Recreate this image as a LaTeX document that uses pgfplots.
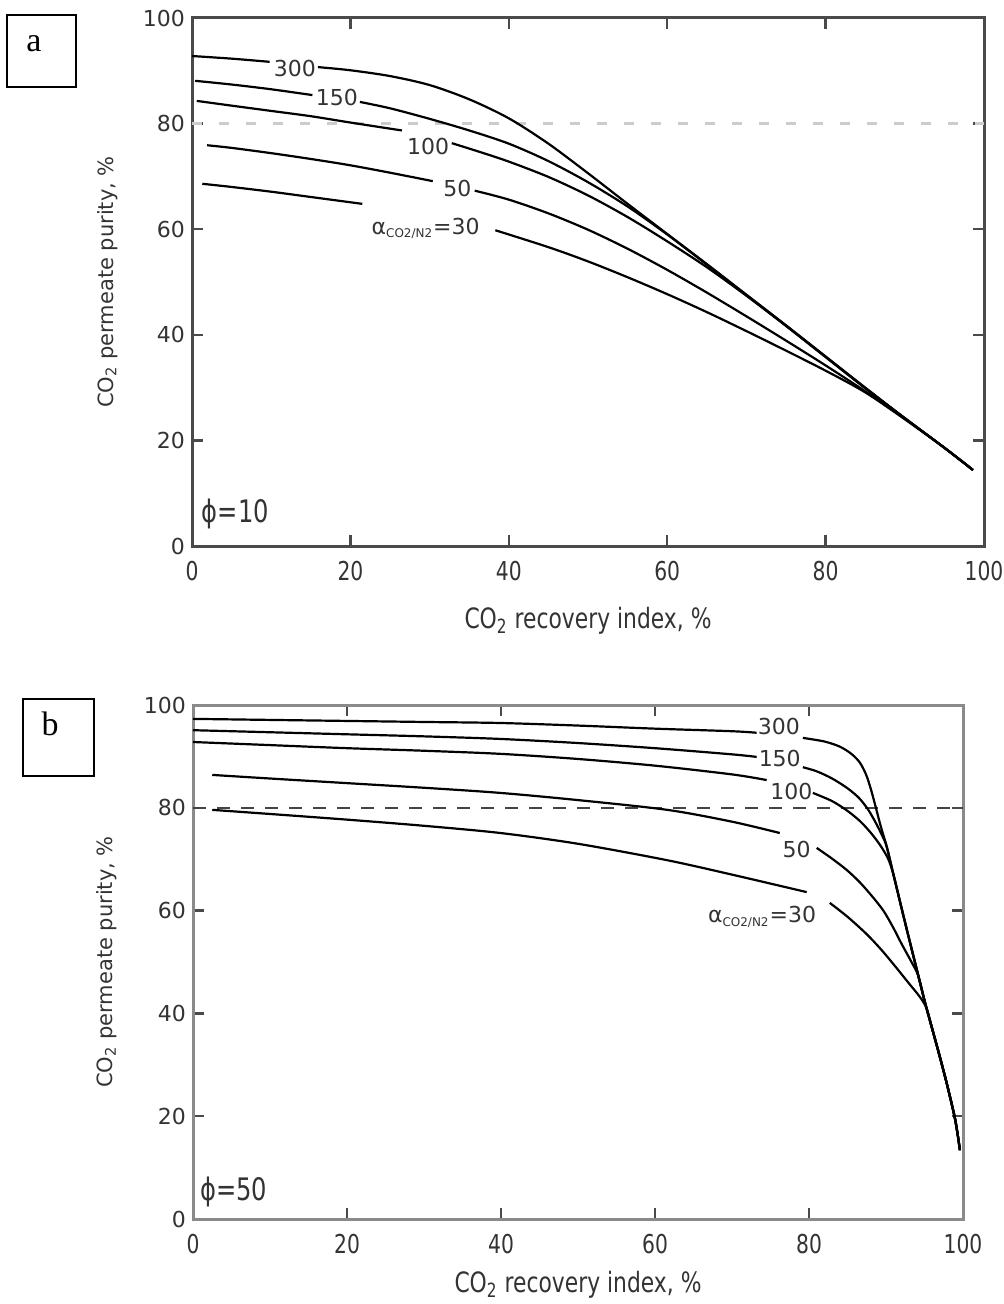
\documentclass[border=0pt]{standalone}
\usepackage{pgfplots}
\pgfplotsset{compat=1.18}
\usepackage{fontspec}
\setmainfont{DejaVu Sans}
\newfontfamily\condfont[FakeStretch=0.78]{DejaVu Sans}
\newfontfamily\seriffont{Liberation Serif}
\definecolor{axa}{HTML}{4A4A4A}
\definecolor{axb}{HTML}{8A8A8A}
\definecolor{txt}{HTML}{333333}
\definecolor{dasha}{HTML}{CCCCCC}
\definecolor{dashb}{HTML}{444444}
\newcommand{\alab}{α\textsubscript{\fontsize{6}{6}\selectfont CO2/N2}=30}
\begin{document}
\begin{tikzpicture}
\useasboundingbox (0,0) rectangle (501.5pt,-652pt);
% panel labels
\draw[line width=0.6pt] (3.5pt,-7.5pt) rectangle (38pt,-43.5pt);
\node[font=\seriffont\fontsize{17}{17}\selectfont] at (17pt,-22pt) {a};
\draw[line width=0.6pt] (11.5pt,-349.5pt) rectangle (47pt,-388pt);
\node[font=\seriffont\fontsize{17}{17}\selectfont] at (25pt,-362pt) {b};

\pgfplotsset{
  myaxis/.style={
    scale only axis, clip=false,
    xmin=0, xmax=100, ymin=0, ymax=100,
    xtick={0,20,40,60,80,100}, ytick={0,20,40,60,80,100},
    major tick length=5.5pt,
    tick style={line width=1.2pt},
    /pgf/number format/assume math mode=true,
    yticklabel style={font=\fontsize{11}{13}\selectfont, text=txt},
    xticklabel style={font=\condfont\fontsize{13}{15}\selectfont, text=txt, yshift=-4pt},
    every axis plot/.append style={line width=1.1pt},
  }
}

\begin{axis}[myaxis,
  at={(96pt,-273pt)}, anchor=south west,
  width=396pt, height=264pt,
  axis line style={axa, line width=1.5pt},
  tick style={axa},
  xlabel={CO\textsubscript{2} recovery index, \%},
  ylabel={CO\textsubscript{2} permeate purity, \%},
  xlabel style={at={(axis description cs:0.5,-0.142)}, anchor=center, font=\condfont\fontsize{14}{16}\selectfont, text=txt},
  ylabel style={at={(axis description cs:-0.107,0.5)}, anchor=center, rotate=0, font=\fontsize{10.5}{12}\selectfont, text=txt},
]
\addplot[dasha, dashed, dash pattern=on 5pt off 8.5pt, line width=1.3pt] coordinates {(0,80) (100,80)};
% alpha = 300
\addplot[black, smooth] coordinates {(0,92.8) (5,92.3) (9.8,91.7)};
\addplot[black, smooth] coordinates {(15.9,90.7) (20,90.1) (25,89.0) (30,87.3) (35,84.6) (40,81.0) (45,76.2) (50,70.6) (55,64.8) (60,59.1) (65,53.4) (70,47.6) (75,41.8) (80,35.9) (85,30.0) (90,24.2) (95,18.6) (98.6,14.4)};
% alpha = 150
\addplot[black, smooth] coordinates {(0.4,88.1) (5,87.4) (10,86.5) (15.2,85.4)};
\addplot[black, smooth] coordinates {(21.2,84.1) (25,82.9) (30,80.9) (35,78.7) (40,76.2) (45,72.9) (50,68.9) (55,64.3) (60,59.0) (65,53.3) (70,47.5) (75,41.7) (80,35.8) (85,29.9) (90,24.2) (95,18.6) (98.6,14.4)};
% alpha = 100
\addplot[black, smooth] coordinates {(0.6,84.3) (5,83.4) (10,82.4) (15,81.4) (20,80.2) (26.5,78.7)};
\addplot[black, smooth] coordinates {(32.8,76.3) (36.4,74.6) (40,72.8) (45,69.9) (50,66.4) (55,62.3) (60,57.7) (65,52.8) (70,47.4) (75,41.7) (80,35.8) (85,29.9) (90,24.2) (95,18.6) (98.6,14.4)};
% alpha = 50
\addplot[black, smooth] coordinates {(1.9,75.9) (5,75.4) (10,74.4) (15,73.3) (20,72.1) (25,70.7) (30.4,69.1)};
\addplot[black, smooth] coordinates {(35.7,67.3) (40,65.6) (45,63.0) (50,59.9) (55,56.3) (60,52.3) (65,48.0) (70,43.5) (75,38.9) (80,34.2) (85,29.3) (90,24.1) (95,18.6) (98.6,14.4)};
% alpha = 30
\addplot[black, smooth] coordinates {(1.3,68.6) (5,68.0) (10,67.1) (15,66.1) (21.5,64.8)};
\addplot[black, smooth] coordinates {(38.3,59.8) (45,56.6) (50,53.9) (55,50.9) (60,47.7) (65,44.3) (70,40.7) (75,37.0) (80,33.2) (85,29.1) (90,24.0) (95,18.6) (98.6,14.4)};
\node[font=\fontsize{11}{12}\selectfont, text=txt] at (axis cs:13.0,90.5) {300};
\node[font=\fontsize{11}{12}\selectfont, text=txt] at (axis cs:18.3,85.0) {150};
\node[font=\fontsize{11}{12}\selectfont, text=txt] at (axis cs:29.8,75.6) {100};
\node[font=\fontsize{11}{12}\selectfont, text=txt] at (axis cs:33.5,67.8) {50};
\node[font=\fontsize{11}{12}\selectfont, text=txt] at (axis cs:29.5,60.2) {\alab};
\node[font=\condfont\fontsize{15.5}{17}\selectfont, text=txt, anchor=west, inner sep=0pt] at (axis cs:1.2,6.0) {ϕ=10};
\end{axis}

\begin{axis}[myaxis,
  at={(96.5pt,-609.5pt)}, anchor=south west,
  width=385pt, height=257pt,
  axis line style={axb, line width=1.5pt},
  tick style={axa},
  xlabel={CO\textsubscript{2} recovery index, \%},
  ylabel={CO\textsubscript{2} permeate purity, \%},
  xlabel style={at={(axis description cs:0.5,-0.128)}, anchor=center, font=\condfont\fontsize{14}{16}\selectfont, text=txt},
  ylabel style={at={(axis description cs:-0.112,0.5)}, anchor=center, rotate=0, font=\fontsize{10.5}{12}\selectfont, text=txt},
]
\addplot[dashb, dashed, dash pattern=on 6.5pt off 5.5pt, line width=1.3pt] coordinates {(0,80) (100,80)};
% alpha = 300
\addplot[black, smooth] coordinates {(0,97.3) (10,97.1) (20,96.9) (30,96.7) (39.9,96.5) (50,96.0) (60,95.4) (70,94.9) (73.2,94.6)};
\addplot[black, smooth] coordinates {(79.2,93.6) (82,92.9) (84,91.9) (85.5,90.5) (86.6,88.8) (87.4,86.5) (88.0,83.8) (88.6,80.5) (89.3,76.5) (90.1,72.4) (91,66.8) (92,60.6) (93,54.5) (94,48.5) (95,42.5) (96,37.0) (97,31.5) (98,25.7) (99,19.2) (99.6,13.4)};
% alpha = 150
\addplot[black, smooth] coordinates {(0,95.1) (10,94.7) (20,94.3) (30,93.9) (39.9,93.4) (50,92.6) (60,91.6) (70,90.4) (73.2,89.9)};
\addplot[black, smooth] coordinates {(79.2,87.9) (81,87.1) (83,85.7) (85,83.8) (86.5,81.9) (87.7,79.6) (88.7,77.0) (89.5,74.6) (90.1,72.4) (91,66.8) (92,60.6) (93,54.5) (94,48.5) (95,42.5) (96,37.0) (97,31.5) (98,25.7) (99,19.2) (99.6,13.4)};
% alpha = 100
\addplot[black, smooth] coordinates {(0,92.8) (10,92.2) (20,91.6) (30,91.1) (39.9,90.5) (50,89.5) (60,88.2) (70,86.5) (74.5,85.4)};
\addplot[black, smooth] coordinates {(80.5,82.9) (83,81.3) (85,79.4) (86.7,77.3) (88.1,75.0) (89.3,72.6) (90.3,70.0) (91,66.8) (92,60.6) (93,54.5) (94,48.5) (95,42.5) (96,37.0) (97,31.5) (98,25.7) (99,19.2) (99.6,13.4)};
% alpha = 50
\addplot[black, smooth] coordinates {(2.5,86.4) (10,85.7) (20,84.8) (30,83.9) (39.9,82.9) (50,81.5) (61.6,79.6) (70,77.3) (76.2,75.1)};
\addplot[black, smooth] coordinates {(81,72.2) (83,70.1) (84.9,67.9) (86.6,65.5) (88.3,62.6) (89.7,59.9) (90.9,56.8) (92,53.6) (93.2,50.3) (94.2,47.3) (95,42.5) (96,37.0) (97,31.5) (98,25.7) (99,19.2) (99.6,13.4)};
% alpha = 30
\addplot[black, smooth] coordinates {(2.5,79.6) (10,78.8) (20,77.7) (30,76.5) (39.9,75.1) (50,73.0) (61.6,69.8) (70,67.0) (79.7,63.6)};
\addplot[black, smooth] coordinates {(82.7,61.5) (85,58.8) (87.5,55.4) (89.5,52.2) (91.5,48.6) (93,45.8) (94.3,43.4) (95.2,41.2) (96,37.0) (97,31.5) (98,25.7) (99,19.2) (99.6,13.4)};
\node[font=\fontsize{11}{12}\selectfont, text=txt] at (axis cs:76.1,95.9) {300};
\node[font=\fontsize{11}{12}\selectfont, text=txt] at (axis cs:76.2,89.5) {150};
\node[font=\fontsize{11}{12}\selectfont, text=txt] at (axis cs:77.7,83.1) {100};
\node[font=\fontsize{11}{12}\selectfont, text=txt] at (axis cs:78.4,71.8) {50};
\node[font=\fontsize{11}{12}\selectfont, text=txt] at (axis cs:73.9,58.8) {\alab};
\node[font=\condfont\fontsize{15.5}{17}\selectfont, text=txt, anchor=west, inner sep=0pt] at (axis cs:0.9,5.3) {ϕ=50};
\end{axis}
\end{tikzpicture}
\end{document}
